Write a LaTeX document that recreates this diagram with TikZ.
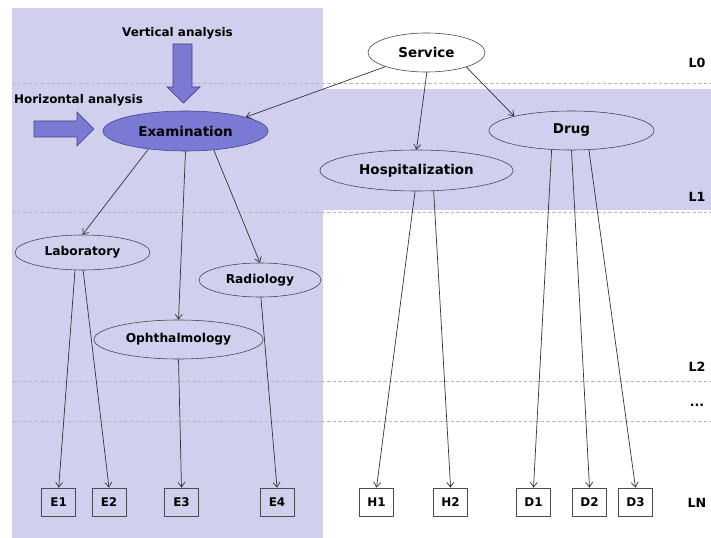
\documentclass[tikz,border=0pt]{standalone}
\usepackage{fontspec}
\setmainfont{DejaVu Sans}
\usepackage{xcolor}
\usepackage{tikz}
\usetikzlibrary{arrows.meta, shapes.geometric}

\definecolor{lavender}{RGB}{208,208,238}
\definecolor{slateblue}{RGB}{122,122,212}
\definecolor{slateedge}{RGB}{66,66,128}

\begin{document}
\begin{tikzpicture}[
            x=0.025cm, y=-0.025cm,
            oval/.style={draw=black!75, ellipse, inner sep=0pt, font=\bfseries\fontsize{9.6}{11}\selectfont},
            suboval/.style={draw=black!75, ellipse, inner sep=0pt, font=\bfseries\fontsize{8.7}{10}\selectfont},
            leaf/.style={draw=black!70, minimum width=0.85cm, minimum height=0.7cm, inner sep=0pt, font=\bfseries\fontsize{8.5}{10}\selectfont},
            level/.style={font=\bfseries\fontsize{9}{10}\selectfont},
            caption/.style={font=\bfseries\fontsize{8.5}{10}\selectfont},
            bigarrow/.style={fill=slateblue, draw=slateedge, line width=0.5pt},
            link/.style={draw=black!80, line width=0.5pt, -{Straight Barb[length=3.5pt, width=5pt]}},
            sep/.style={draw=gray!55, line width=0.4pt, dash pattern=on 2.5pt off 1.5pt},
        ]
        \useasboundingbox (0,0) rectangle (711,538);
        % shaded regions
        \fill[lavender] (12,8) rectangle (323,538);
        \fill[lavender] (323,89) rectangle (711,210);
        \foreach \y in {83,212,381,421}
            \draw[sep] (12,\y) -- (711,\y);

        % level labels
        \node[level] (l0) at (697,63) {L0};
        \node[level] (l1) at (697,197) {L1};
        \node[level] (l2) at (697,367) {L2};
        \node[level] (ldots) at (697,405) {...};
        \node[level] (ln) at (697,503) {LN};

        % analysis arrows
        \node[caption] (vert) at (177.5,33) {Vertical analysis};
        \node[caption] (horiz) at (78.5,100) {Horizontal analysis};
        \draw[bigarrow] (173,44) -- (192,44) -- (192,87) -- (200,87) -- (183.5,103)
            -- (167,87) -- (173,87) -- cycle;
        \draw[bigarrow] (34,121) -- (77,121) -- (77,112) -- (94,129) -- (77,146)
            -- (77,137) -- (34,137) -- cycle;

        % tree
        \node[oval, minimum width=2.925cm, minimum height=0.975cm, fill=white] (srv) at (426.5,52.5) {Service};
        \node[oval, minimum width=4.125cm, minimum height=1cm, fill=slateblue, draw=slateedge] (exam) at (185.5,131) {Examination};
        \node[oval, minimum width=4.125cm, minimum height=0.975cm] (drug) at (571.5,130.5) {Drug};
        \node[oval, minimum width=4.825cm, minimum height=1.025cm] (hosp) at (416.5,170.5) {Hospitalization};
        \node[suboval, minimum width=3.375cm, minimum height=0.875cm] (lab) at (82.5,252.5) {Laboratory};
        \node[suboval, minimum width=3.05cm, minimum height=0.85cm] (rad) at (260,280) {Radiology};
        \node[suboval, minimum width=4.225cm, minimum height=0.975cm] (oph) at (178.5,339.5) {Ophthalmology};

        \node[leaf] (e1) at (58.7,502) {E1};
        \node[leaf] (e2) at (109,502) {E2};
        \node[leaf] (e3) at (181.5,502) {E3};
        \node[leaf] (e4) at (277,502) {E4};
        \node[leaf] (h1) at (376.5,502) {H1};
        \node[leaf] (h2) at (450.6,502) {H2};
        \node[leaf] (d1) at (533.5,502) {D1};
        \node[leaf] (d2) at (589.5,502) {D2};
        \node[leaf] (d3) at (635.5,502) {D3};

        \draw[link] (srv.199) -- (exam.13);
        \draw[link] (srv.271) -- (hosp.north);
        \draw[link] (srv.340) -- (drug.166);
        \draw[link] (exam.206) -- (lab.north);
        \draw[link] (exam.270) -- (oph.north);
        \draw[link] (exam.326) -- (rad.north);
        \draw[link] (lab.247) -- (e1.north);
        \draw[link] (lab.272) -- (e2.north);
        \draw[link] (oph.south) -- (e3.north);
        \draw[link] (rad.273) -- (e4.north);
        \draw[link] (hosp.266) -- (h1.north);
        \draw[link] (hosp.310) -- (h2.north);
        \draw[link] (drug.224) -- (d1.north);
        \draw[link] (drug.270) -- (d2.north);
        \draw[link] (drug.312) -- (d3.north);
        \end{tikzpicture}
\end{document}
